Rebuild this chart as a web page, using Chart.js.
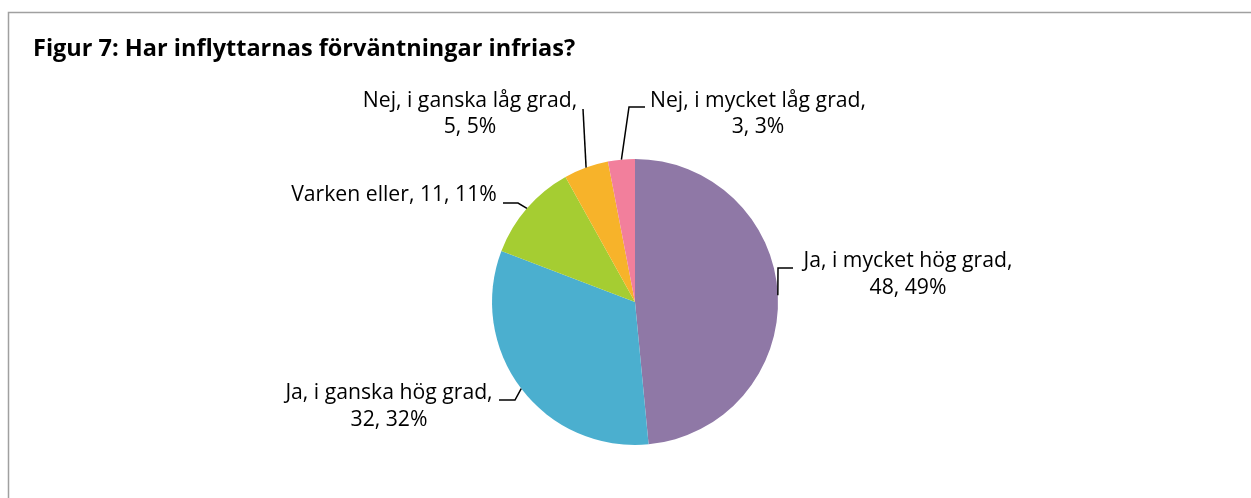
<!DOCTYPE html>
<html>
<head>
<meta charset="utf-8">
<script src="https://cdn.jsdelivr.net/npm/chart.js@4/dist/chart.umd.min.js"></script>
<style>
  html, body { margin: 0; padding: 0; background: #fff; }
  #wrap { position: relative; width: 1251px; height: 498px; }
</style>
</head>
<body>
<div id="wrap"><canvas id="pie" width="1251" height="498"></canvas></div>
<script>
// ── Data ─────────────────────────────────────────────────────────────────────
const categories = [
    "Ja, i mycket hög grad",
    "Ja, i ganska hög grad",
    "Varken eller",
    "Nej, i ganska låg grad",
    "Nej, i mycket låg grad"
];
const values      = [48, 32, 11, 5, 3];
const percentages = [49, 32, 11, 5, 3];   // as printed on the chart
const colors      = ["#8F78A6", "#4BAFCF", "#A5CD32", "#F7B32A", "#F27F9C"];

const titleText = "Figur 7: Har inflyttarnas förväntningar infrias?";

// ── Label layout (text centre, line centres, leader elbow points) ────────────
const labelLayout = [
    { cx: 908, lines: [261, 288], split: true,  elbow: [[778, 268], [793, 268]] },
    { cx: 389, lines: [393, 420], split: true,  elbow: [[515, 400], [499, 400]] },
    { cx: 394, lines: [195],      split: false, elbow: [[518, 203], [503, 203]] },
    { cx: 470, lines: [101, 127], split: true,  elbow: [[583, 109]] },
    { cx: 758, lines: [101, 127], split: true,  elbow: [[629, 107], [645, 107]] }
];

const FONT = "'Open Sans', 'Liberation Sans', sans-serif";

// ── Plugin: frame, title, data labels with leader lines ──────────────────────
const decorations = {
    id: "decorations",
    afterDraw(chart) {
        const c = chart.ctx;
        c.save();

        // frame
        c.strokeStyle = "#a0a0a0";
        c.lineWidth = 1.5;
        c.beginPath();
        c.moveTo(8.5, 520);
        c.lineTo(8.5, 12.5);
        c.lineTo(1260, 12.5);
        c.stroke();

        // title
        c.fillStyle = "#000";
        c.font = "bold 23.5px " + FONT;
        c.textAlign = "left";
        c.textBaseline = "alphabetic";
        c.fillText(titleText, 33, 56);

        // labels
        const arcs = chart.getDatasetMeta(0).data;
        c.font = "21.2px " + FONT;
        c.textAlign = "center";
        c.textBaseline = "middle";
        arcs.forEach((arc, i) => {
            const p = arc.getProps(["x", "y", "startAngle", "endAngle", "outerRadius"], true);
            const mid = (p.startAngle + p.endAngle) / 2;
            const ax = p.x + Math.cos(mid) * p.outerRadius;
            const ay = p.y + Math.sin(mid) * p.outerRadius;
            const lay = labelLayout[i];

            c.strokeStyle = "#000";
            c.lineWidth = 1.5;
            c.beginPath();
            c.moveTo(ax, ay);
            lay.elbow.forEach(pt => c.lineTo(pt[0], pt[1]));
            c.stroke();

            const tail = values[i] + ", " + percentages[i] + "%";
            const texts = lay.split
                ? [categories[i] + ",", tail]
                : [categories[i] + ", " + tail];
            texts.forEach((t, k) => c.fillText(t, lay.cx, lay.lines[k]));
        });
        c.restore();
    }
};

// ── Chart setup ──────────────────────────────────────────────────────────────
new Chart(document.getElementById("pie"), {
    type: "pie",
    data: {
        labels: categories,
        datasets: [{
            data: values,
            backgroundColor: colors,
            borderWidth: 0
        }]
    },
    options: {
        responsive: false,
        animation: false,
        layout: { padding: { left: 492, right: 473, top: 159, bottom: 53 } },
        plugins: {
            legend: { display: false },
            tooltip: { enabled: false }
        }
    },
    plugins: [decorations]
});
</script>
</body>
</html>
